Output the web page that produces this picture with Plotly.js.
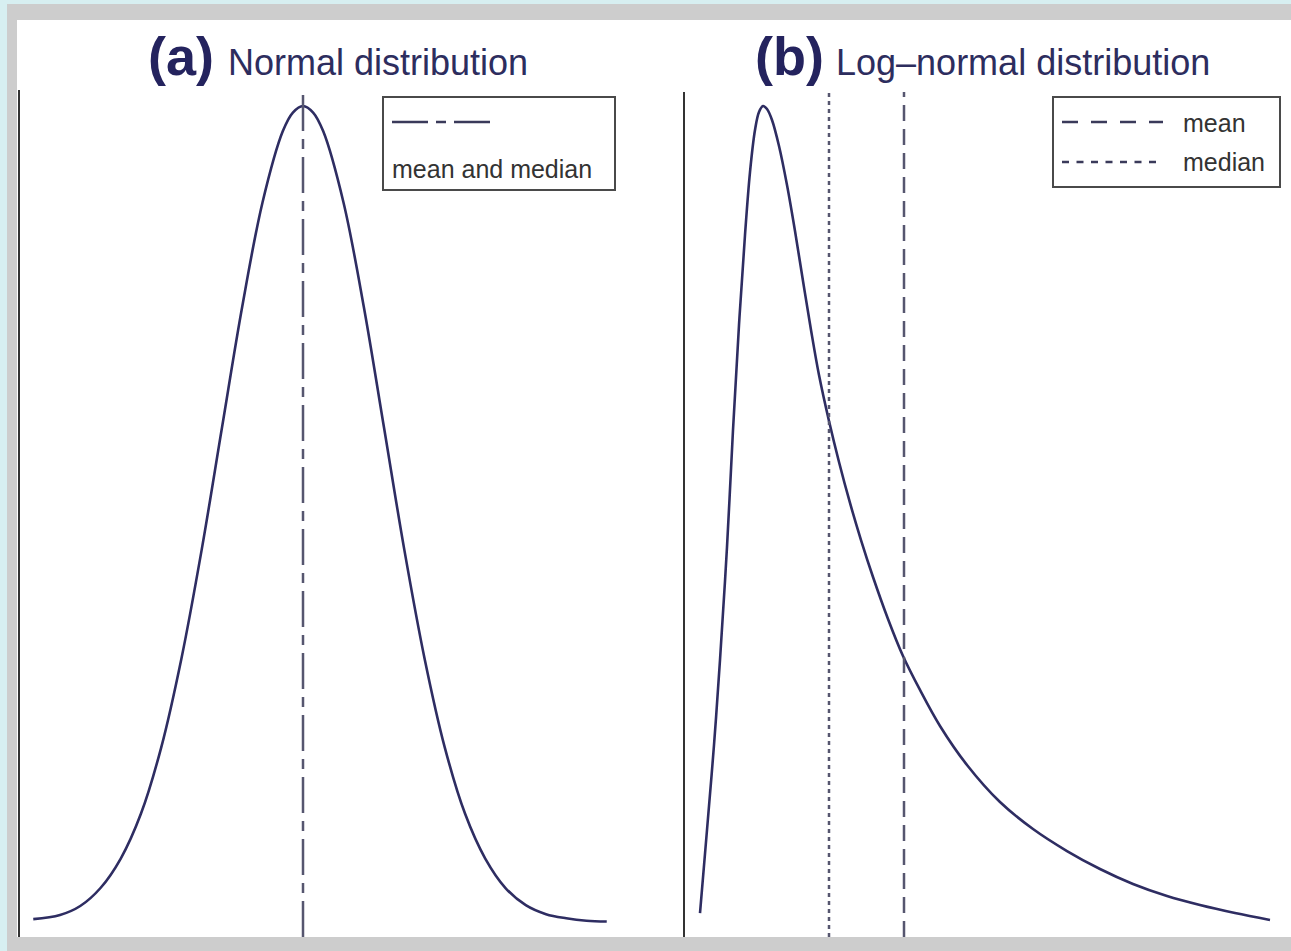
<!DOCTYPE html>
<html>
<head>
<meta charset="utf-8">
<script src="https://cdn.plot.ly/plotly-3.0.1.min.js"></script>
<style>
  html, body { margin: 0; padding: 0; background: #d7eff1; }
  #chart { width: 1291px; height: 951px; }
</style>
</head>
<body>
<div id="chart"></div>
<script>
// ---------- DATA ----------
// Panel (a): normal distribution, x in standard-deviation units, y relative height
const normX = [-3.33, -3.0, -2.75, -2.5, -2.25, -2.0, -1.75, -1.5, -1.25, -1.0, -0.75, -0.5, -0.25, -0.125, 0.0,
               0.125, 0.25, 0.5, 0.75, 1.0, 1.25, 1.5, 1.75, 2.0, 2.25, 2.5, 2.75, 3.0, 3.25, 3.5, 3.75];
const normY = [0.006, 0.011, 0.022, 0.044, 0.080, 0.135, 0.216, 0.325, 0.458, 0.607, 0.755, 0.882, 0.969, 0.992, 1.000,
               0.992, 0.969, 0.882, 0.755, 0.607, 0.458, 0.325, 0.216, 0.135, 0.080, 0.044, 0.023, 0.012, 0.007, 0.004, 0.003];
// Panel (b): log-normal distribution, y relative height
const lognX = [0.2125, 0.3, 0.3875, 0.4625, 0.55, 0.625, 0.7, 0.775, 0.8375, 0.9, 0.95, 1.0, 1.05, 1.1125,
               1.2, 1.3, 1.4, 1.5, 1.6, 1.7, 1.825, 1.95, 2.0875, 2.225, 2.375, 2.5625, 2.75, 2.9625, 3.2125,
               3.55, 3.9625, 4.375, 4.8, 5.2125, 5.625, 6.05, 6.4625, 6.9, 7.3375];
const lognY = [0.0134, 0.1149, 0.2188, 0.3227, 0.4609, 0.6039, 0.7323, 0.8423, 0.9193, 0.9707, 0.9927, 1.0, 0.9963, 0.9829,
               0.9511, 0.9034, 0.8472, 0.7861, 0.7262, 0.6711, 0.6149, 0.5648, 0.5147, 0.4694, 0.4242, 0.3729, 0.3276, 0.2861, 0.2421,
               0.1944, 0.1491, 0.1161, 0.0892, 0.0672, 0.0489, 0.0342, 0.0232, 0.0134, 0.0049];
const meanA = 0.0;       // mean and median of the normal distribution
const medianB = 1.825;   // median of the log-normal
const meanB = 2.7625;    // mean of the log-normal

const titleA = ["(a)", "Normal distribution"];
const titleB = ["(b)", "Log\u2013normal distribution"];
const legendA = ["mean and median"];
const legendB = ["mean", "median"];

// ---------- STYLE / LAYOUT ----------
const W = 1291, H = 951;
const PX = p => p / W;
const PY = p => 1 - p / H;
const curveColor = '#2e2d62';
const refColor = '#56566f';
const navy = '#24235e';

const traces = [
  {x: normX, y: normY, xaxis: 'x', yaxis: 'y', type: 'scatter', mode: 'lines',
   line: {color: curveColor, width: 2.6, shape: 'spline', smoothing: 1}, hoverinfo: 'skip', showlegend: false},
  {x: lognX, y: lognY, xaxis: 'x2', yaxis: 'y2', type: 'scatter', mode: 'lines',
   line: {color: curveColor, width: 2.6, shape: 'spline', smoothing: 1}, hoverinfo: 'skip', showlegend: false}
];

const shapes = [
  // gray frame and white panel
  {type: 'rect', xref: 'paper', yref: 'paper', x0: PX(7), x1: 1.01, y0: -0.01, y1: PY(4),
   fillcolor: '#cdcdcd', line: {width: 0}, layer: 'below'},
  {type: 'rect', xref: 'paper', yref: 'paper', x0: PX(17), x1: 1.01, y0: PY(937), y1: PY(20),
   fillcolor: '#ffffff', line: {width: 0}, layer: 'below'},
  // reference lines
  {type: 'line', xref: 'x', yref: 'y domain', x0: meanA, x1: meanA, y0: 0, y1: 1,
   line: {color: refColor, width: 2.5, dash: '36px,8px,10px,8px'}},
  {type: 'line', xref: 'x2', yref: 'y2 domain', x0: medianB, x1: medianB, y0: 0, y1: 1,
   line: {color: refColor, width: 2.5, dash: '4px,4px'}},
  {type: 'line', xref: 'x2', yref: 'y2 domain', x0: meanB, x1: meanB, y0: 0, y1: 1,
   line: {color: refColor, width: 2.5, dash: '16px,8px'}},
  // legend boxes
  {type: 'rect', xref: 'paper', yref: 'paper', x0: PX(383), x1: PX(615), y0: PY(190), y1: PY(97),
   fillcolor: 'rgba(0,0,0,0)', line: {color: '#4a4a4a', width: 2}},
  {type: 'rect', xref: 'paper', yref: 'paper', x0: PX(1053), x1: PX(1280), y0: PY(187), y1: PY(97),
   fillcolor: 'rgba(0,0,0,0)', line: {color: '#4a4a4a', width: 2}},
  // legend samples
  {type: 'line', xref: 'paper', yref: 'paper', x0: PX(392), x1: PX(490), y0: PY(122), y1: PY(122),
   line: {color: '#3a3a5a', width: 2.5, dash: '36px,8px,10px,8px'}},
  {type: 'line', xref: 'paper', yref: 'paper', x0: PX(1062), x1: PX(1163), y0: PY(122), y1: PY(122),
   line: {color: '#3a3a5a', width: 2.5, dash: '16px,13px'}},
  {type: 'line', xref: 'paper', yref: 'paper', x0: PX(1062), x1: PX(1163), y0: PY(162), y1: PY(162),
   line: {color: '#3a3a5a', width: 2.5, dash: '7px,7.5px'}}
];

const ann = (text, x, y, size, bold, color) => ({
  xref: 'paper', yref: 'paper', x: PX(x), y: PY(y), xanchor: 'left', yanchor: 'middle',
  showarrow: false, text: bold ? '<b>' + text + '</b>' : text,
  font: {family: 'Liberation Sans, Arial, sans-serif', size: size, color: color}
});

const annotations = [
  ann(titleA[0], 146, 56, 54, true, navy),
  ann(titleA[1], 226, 62, 36, false, '#2d2d5e'),
  ann(titleB[0], 753, 56, 54, true, navy),
  ann(titleB[1], 834, 62, 36, false, '#2d2d5e'),
  ann(legendA[0], 390, 169, 25, false, '#333333'),
  ann(legendB[0], 1181, 123, 25, false, '#333333'),
  ann(legendB[1], 1181, 162, 25, false, '#333333')
];

const hiddenX = {showgrid: false, zeroline: false, showline: false, showticklabels: false, ticks: '', fixedrange: true};
const layout = {
  width: W, height: H,
  margin: {l: 0, r: 0, t: 0, b: 0, pad: 0},
  paper_bgcolor: '#d7eff1',
  plot_bgcolor: 'rgba(0,0,0,0)',
  showlegend: false,
  xaxis: Object.assign({domain: [PX(19.5), PX(640)], range: [-3.5, 4.1605], anchor: 'y'}, hiddenX),
  yaxis: {domain: [PY(937), PY(90)], range: [-0.01589, 1.01956], anchor: 'x',
          showgrid: false, zeroline: false, showticklabels: false, ticks: '',
          showline: true, linecolor: '#333333', linewidth: 2},
  xaxis2: Object.assign({domain: [PX(684.5), 1], range: [0.01875, 7.6], anchor: 'y2'}, hiddenX),
  yaxis2: {domain: [PY(937), PY(92)], range: [-0.01589, 1.01711], anchor: 'x2',
          showgrid: false, zeroline: false, showticklabels: false, ticks: '',
          showline: true, linecolor: '#333333', linewidth: 2},
  shapes: shapes,
  annotations: annotations
};

Plotly.newPlot('chart', traces, layout, {staticPlot: true, displayModeBar: false});
</script>
</body>
</html>
